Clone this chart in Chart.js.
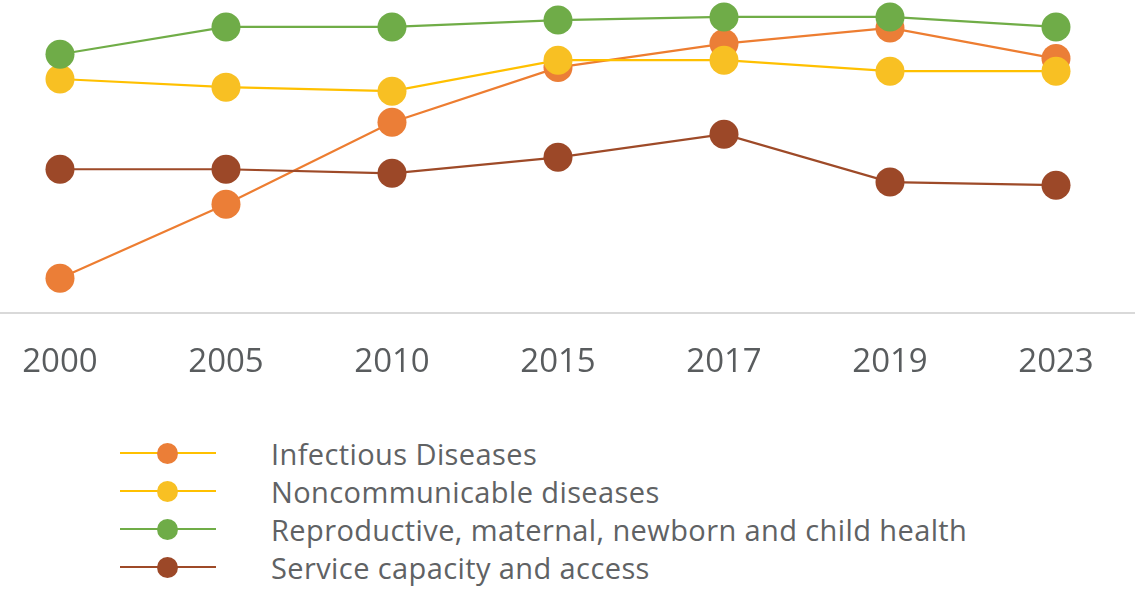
<!DOCTYPE html>
<html>
<head>
<meta charset="utf-8">
<script src="https://cdn.jsdelivr.net/npm/chart.js@4"></script>
<style>
  html, body { margin: 0; padding: 0; background: #fff; }
  body { width: 1135px; height: 589px; overflow: hidden; position: relative; font-family: "Open Sans", "Lato", sans-serif; }
  #wrap { position: absolute; left: 0; top: 0; width: 1135px; height: 411px; }
  #legend { position: absolute; left: 120px; top: 434px; }
  .lg-row { display: flex; align-items: center; height: 38px; }
  .lg-key { position: relative; width: 96px; height: 21px; margin-right: 55px; }
  .lg-key .ln { position: absolute; left: 0; right: 0; top: 9.5px; height: 2px; }
  .lg-key .dt { position: absolute; left: 37px; top: 0; width: 21px; height: 21px; border-radius: 50%; }
  .lg-txt { font-size: 29px; letter-spacing: 0.4px; color: #606264; white-space: nowrap; }
</style>
</head>
<body>
<div id="wrap"><canvas id="c"></canvas></div>
<div id="legend"></div>
<script>
  // 年次
  var YEARS = ["2000", "2005", "2010", "2015", "2017", "2019", "2023"];
  // 各系列（縦軸は非表示のため 0〜100 の相対値で読み取り）
  var INFECTIOUS = [11.2, 34.8, 61.0, 78.5, 86.1, 91.1, 81.3];
  var NONCOMM = [74.8, 72.2, 70.9, 80.8, 80.8, 77.3, 77.3];
  var RMNCH = [82.7, 91.4, 91.4, 93.6, 94.6, 94.6, 91.4];
  var SERVICE = [46.0, 46.0, 44.7, 49.8, 57.2, 41.9, 40.9];

  var SERIES = [
    { name: "Infectious Diseases", data: INFECTIOUS, line: "#ED7D31", dot: "#EB7E37", legendLine: "#FFC000", order: 3 },
    { name: "Noncommunicable diseases", data: NONCOMM, line: "#FFC000", dot: "#F8C023", legendLine: "#FFC000", order: 1 },
    { name: "Reproductive, maternal, newborn and child health", data: RMNCH, line: "#70AD47", dot: "#6FAC48", legendLine: "#70AD47", order: 0 },
    { name: "Service capacity and access", data: SERVICE, line: "#9E4A28", dot: "#9C4828", legendLine: "#9E4A28", order: 2 }
  ];

  function pts(arr) { return arr.map(function (v, i) { return { x: i, y: v }; }); }

  new Chart(document.getElementById("c"), {
    type: "line",
    data: {
      datasets: SERIES.map(function (s) {
        return {
          label: s.name, data: pts(s.data), order: s.order,
          borderColor: s.line, borderWidth: 2.2,
          pointBackgroundColor: s.dot, pointBorderWidth: 0, pointRadius: 14.5, pointHoverRadius: 14.5,
          tension: 0, clip: false
        };
      })
    },
    options: {
      responsive: true, maintainAspectRatio: false, animation: false,
      layout: { padding: 0, autoPadding: false },
      plugins: { legend: { display: false }, tooltip: { enabled: false } },
      scales: {
        x: {
          type: "linear", min: -0.3614, max: 6.4759,
          afterBuildTicks: function (sc) { sc.ticks = YEARS.map(function (_, i) { return { value: i }; }); },
          // ラベルのはみ出し用の余白は不要（端まで軸線を引く）
          afterFit: function (sc) { sc.paddingLeft = 0; sc.paddingRight = 0; },
          grid: { display: false, drawTicks: false },
          border: { display: true, color: "#d9d9d9", width: 2 },
          ticks: {
            padding: 29, color: "#595c5e",
            font: { family: "Open Sans", size: 33 },
            maxRotation: 0, autoSkip: false,
            callback: function (v) { return YEARS[v]; }
          }
        },
        y: { display: false, min: 0, max: 100 }
      }
    }
  });

  var lg = document.getElementById("legend");
  lg.innerHTML = SERIES.map(function (s) {
    return '<div class="lg-row"><div class="lg-key"><div class="ln" style="background:' + s.legendLine + '"></div>' +
      '<div class="dt" style="background:' + s.dot + '"></div></div><div class="lg-txt">' + s.name + '</div></div>';
  }).join("");
</script>
</body>
</html>
